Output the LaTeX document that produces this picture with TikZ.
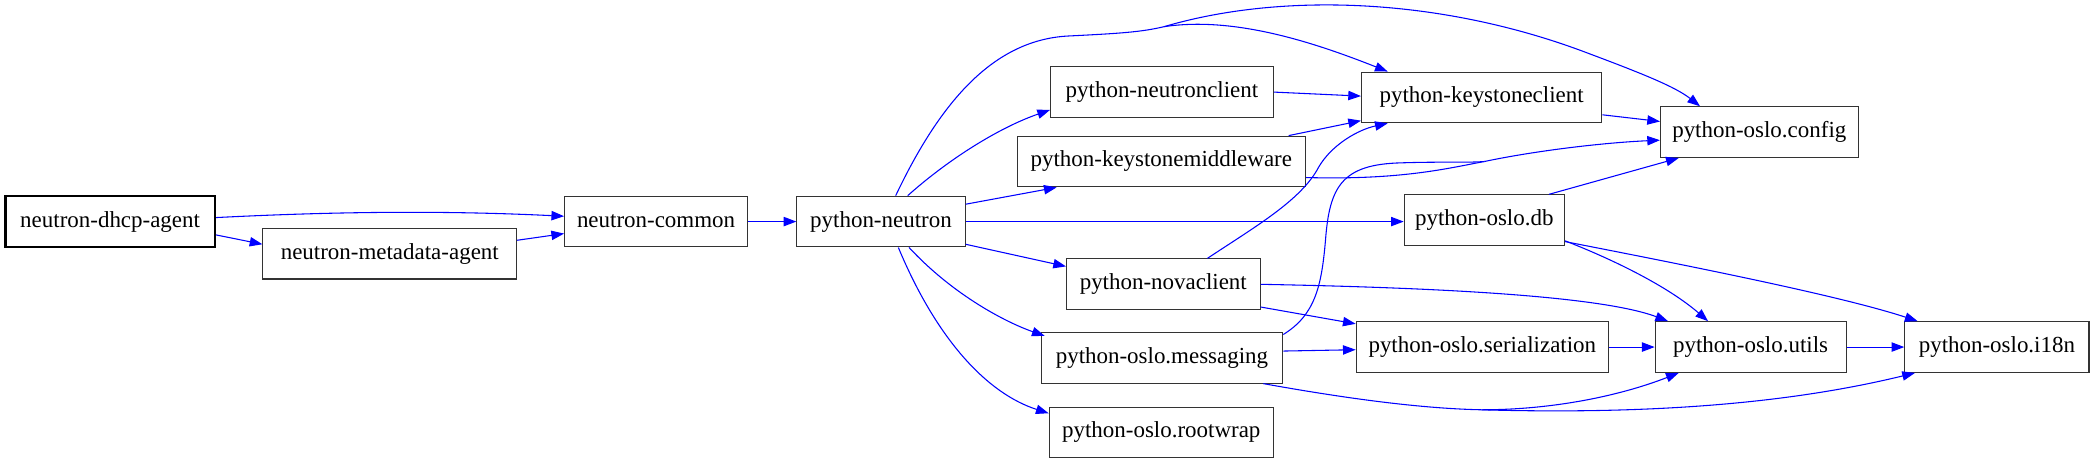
\documentclass[tikz,border=0pt]{standalone}
\usepackage{fontspec}
\setmainfont{Liberation Serif}
\usetikzlibrary{arrows.meta,calc}
\definecolor{edgeblue}{RGB}{0,0,255}
\tikzset{
  box/.style={draw=black!80, fill=white, line width=0.8pt, minimum height=38pt, inner sep=0pt,
    font=\fontsize{17.2}{20}\selectfont},
  rootbox/.style={box, line width=1.8pt, draw=black},
  edge/.style={draw=edgeblue, line width=0.8pt, -{Triangle[length=9.5pt,width=7pt]}},
  plain/.style={draw=edgeblue, line width=0.8pt}
}
\begin{document}
\begin{tikzpicture}[x=1pt,y=-1pt]
\useasboundingbox (0,0) rectangle (1568,344);
\fill[white] (0,0) rectangle (1568,344);
% nodes
\node[rootbox, minimum width=157pt] (dhcp) at (82.5,166) {neutron-dhcp-agent};
\node[box, minimum width=190pt] (meta) at (292,190) {neutron-metadata-agent};
\node[box, minimum width=137pt] (common) at (491.5,166) {neutron-common};
\node[box, minimum width=126pt] (pyn) at (660,166) {python-neutron};
\node[box, minimum width=167pt] (nc) at (870.5,69) {python-neutronclient};
\node[box, minimum width=216pt] (ksm) at (870,121) {python-keystonemiddleware};
\node[box, minimum width=145pt] (nova) at (871.5,213) {python-novaclient};
\node[box, minimum width=181pt] (msg) at (870.5,268) {python-oslo.messaging};
\node[box, minimum width=168pt] (rw) at (870,324) {python-oslo.rootwrap};
\node[box, minimum width=180pt] (ksc) at (1110,73) {python-keystoneclient};
\node[box, minimum width=148pt] (cfg) at (1318,99) {python-oslo.config};
\node[box, minimum width=120pt] (db) at (1112,165) {python-oslo.db};
\node[box, minimum width=189pt] (ser) at (1110.5,260) {python-oslo.serialization};
\node[box, minimum width=143pt] (utils) at (1311.5,260) {python-oslo.utils};
\node[box, minimum width=138pt] (i18n) at (1496,260) {python-oslo.i18n};
% helper coordinates
\coordinate (topsplit) at (872,20);
\coordinate (cfgjoin) at (1112,121);
\coordinate (lowsplit) at (1110,307);
% edges
\draw[edge] ($(dhcp.east)+(0,-3)$) .. controls (260,158) and (340,158) .. ($(common.west)+(0,-4)$);
\draw[edge] ($(dhcp.east)+(0,10)$) -- ($(meta.west)+(0,-7)$);
\draw[edge] ($(meta.east)+(0,-10)$) -- ($(common.west)+(0,9)$);
\draw[edge] (common.east) -- (pyn.west);
\draw[edge] ($(pyn.north)+(20,0)$) .. controls (712,118) and (750,95) .. ($(nc.south west)+(0,-6)$);
\draw[edge] ($(pyn.east)+(0,-13)$) -- ($(ksm.south west)+(30,0)$);
\draw[edge] (pyn.east) -- (db.west |- pyn.east);
\draw[edge] ($(pyn.east)+(0,17)$) -- ($(nova.north west)+(0,6)$);
\draw[edge] ($(pyn.south)+(21,0)$) .. controls (715,222) and (755,242) .. ($(msg.north west)+(3,3)$);
\draw[edge] ($(pyn.south)+(13,0)$) .. controls (702,255) and (740,295) .. ($(rw.north west)+(0,5)$);
% python-neutron -> keystoneclient / config (shared start)
\draw[plain] ($(pyn.north)+(11,0)$) .. controls (705,75) and (745,30) .. (800,27) .. controls (840,25) and (855,24) .. (topsplit);
\draw[edge] (topsplit) .. controls (925,12) and (985,32) .. ($(ksc.north west)+(20,0)$);
\draw[edge] (topsplit) .. controls (960,-6) and (1080,-2) .. (1190,40) .. controls (1230,55) and (1255,65) .. ($(cfg.north west)+(30,0)$);
\draw[edge] (nc.east) -- ($(ksc.west)+(0,-1)$);
\draw[edge] ($(ksm.north east)+(-13,0)$) -- ($(ksc.south west)+(0,-2)$);
% keystonemiddleware & messaging -> config (converge)
\draw[plain] ($(ksm.east)+(0,12)$) .. controls (1050,135) and (1085,126) .. (cfgjoin);
\draw[plain] ($(msg.north east)+(0,2)$) .. controls (985,236) and (990,215) .. (993,180) .. controls (996,140) and (1005,123) .. (1050,122) .. controls (1080,121) and (1100,122) .. (cfgjoin);
\draw[edge] (cfgjoin) .. controls (1150,113) and (1200,107) .. ($(cfg.west)+(0,6)$);
\draw[edge] ($(nova.north)+(33,0)$) .. controls (940,170) and (975,150) .. (988,125) .. controls (998,108) and (1018,97) .. ($(ksc.south west)+(20,0)$);
\draw[edge] (nova.east) .. controls (1050,215) and (1195,220) .. ($(utils.north west)+(10,0)$);
\draw[edge] ($(nova.east)+(0,17)$) -- ($(ser.north west)+(0,2)$);
\draw[edge] ($(msg.east)+(0,-5)$) -- ($(ser.west)+(0,2)$);
\draw[edge] ($(ksc.east)+(0,13)$) -- ($(cfg.west)+(0,-8)$);
\draw[edge] ($(db.north east)+(-12,0)$) -- ($(cfg.south west)+(14,0)$);
\draw[edge] ($(db.south east)+(0,-4)$) .. controls (1210,195) and (1250,215) .. ($(utils.north west)+(40,0)$);
\draw[edge] ($(db.east)+(0,16)$) .. controls (1270,200) and (1380,222) .. ($(i18n.north west)+(10,0)$);
\draw[edge] (ser.east) -- (utils.west);
\draw[edge] (utils.east) -- (i18n.west);
% messaging -> utils / i18n (shared start)
\draw[plain] ($(msg.south east)+(-15,0)$) .. controls (1000,297) and (1060,306) .. (lowsplit);
\draw[edge] (lowsplit) .. controls (1165,307) and (1215,296) .. ($(utils.south west)+(18,0)$);
\draw[edge] (lowsplit) .. controls (1250,311) and (1350,300) .. ($(i18n.south west)+(8,0)$);
\end{tikzpicture}
\end{document}
